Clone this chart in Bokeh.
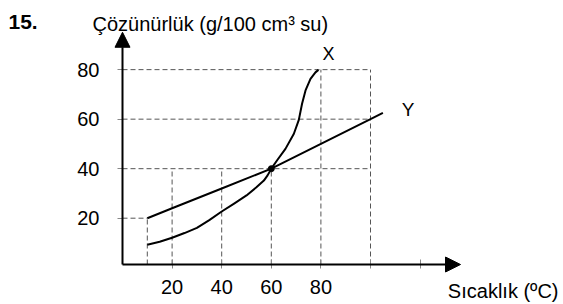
from bokeh.plotting import figure
from bokeh.models import Range1d, FixedTicker, Label, Arrow, NormalHead
from bokeh.embed import file_html
from bokeh.resources import INLINE

# ---- data ----
x_ticks = [20, 40, 60, 80, 100, 120]
x_tick_labels = {20: "20", 40: "40", 60: "60", 80: "80", 100: "", 120: ""}
y_ticks = [20, 40, 60, 80]

x_curve_t = [10, 15, 20, 25, 30, 35, 40, 45, 50, 54, 57, 58.5, 60, 62.5, 65.7,
             69.1, 71.1, 72.4, 73.8, 75.8, 77.8, 79]
x_curve_s = [9.3, 10.5, 12.1, 14, 16.1, 19.2, 22.7, 25.9, 29.2, 32.5, 35.2, 37.3, 40,
             43.6, 48, 54.1, 59.7, 66.2, 71.6, 76.3, 78.9, 79.9]

y_curve_t = [10, 20, 40, 60, 80, 100, 105]
y_curve_s = [20, 24, 32, 40, 50, 60, 62.5]

# dashed guide lines
h_guide_y = [20, 40, 60, 80]
h_guide_xend = [10, 100, 100, 100]
v_guide_x = [10, 20, 40, 60, 80, 100]
v_guide_ytop = [20, 40, 40, 40, 80, 80]

# axis extents (arrow tips) and axis crossing
AX_X0, AX_X1 = 0, 136.3
AX_Y0, AX_Y1 = 1.3, 95.1

FONT = "Liberation Sans"
W, H = 560, 302
# page pixel mapping: x=0 at px 122, 2.48 px/unit; y=1.3 at py 264, 2.476 px/unit
OX, KX = 122.0, 2.48
OY, KY = 264.0, 2.476


def dx(px):
    return AX_X0 + (px - OX) / KX


def dy(py):
    return AX_Y0 + (OY - py) / KY


p = figure(width=W, height=H, output_backend="svg", toolbar_location=None,
           x_range=Range1d(dx(0), dx(W)), y_range=Range1d(dy(H), dy(0)),
           min_border=0, min_border_left=0, min_border_right=0,
           min_border_top=0, min_border_bottom=0)
p.outline_line_color = None
p.grid.visible = False
p.background_fill_color = "white"
p.border_fill_color = "white"

# axes placed at the data origin
p.xaxis.fixed_location = AX_Y0
p.yaxis.fixed_location = AX_X0

p.xaxis.ticker = FixedTicker(ticks=x_ticks)
p.xaxis.major_label_overrides = x_tick_labels
p.xaxis.axis_line_color = None
p.xaxis.major_tick_in = 5
p.xaxis.major_tick_out = 4
p.xaxis.major_tick_line_color = "#888888"
p.xaxis.minor_tick_line_color = None
p.xaxis.major_label_standoff = 11
p.xaxis.major_label_text_font = FONT
p.xaxis.major_label_text_font_size = "20px"
p.xaxis.major_label_text_color = "black"

p.yaxis.ticker = FixedTicker(ticks=y_ticks)
p.yaxis.axis_line_color = None
p.yaxis.major_tick_in = 0
p.yaxis.major_tick_out = 5
p.yaxis.major_tick_line_color = "#888888"
p.yaxis.minor_tick_line_color = None
p.yaxis.major_label_standoff = 18
p.yaxis.major_label_text_font = FONT
p.yaxis.major_label_text_font_size = "20px"
p.yaxis.major_label_text_color = "black"

# guides
p.segment(x0=[AX_X0] * len(h_guide_y), y0=h_guide_y, x1=h_guide_xend, y1=h_guide_y,
          line_color="#555555", line_width=1, line_dash="5 3")
p.segment(x0=v_guide_x, y0=[AX_Y0] * len(v_guide_x), x1=v_guide_x, y1=v_guide_ytop,
          line_color="#555555", line_width=1, line_dash="5 3")

# curves
p.line(x_curve_t, x_curve_s, line_color="black", line_width=2, line_join="round")
p.line(y_curve_t, y_curve_s, line_color="black", line_width=2, line_join="round")
p.scatter([60], [40], size=6, color="black")

# axis arrows
for ex, ey in [(AX_X0, AX_Y1), (AX_X1, AX_Y0)]:
    p.add_layout(Arrow(end=NormalHead(size=15, fill_color="black", line_color="black"),
                       x_start=AX_X0, y_start=AX_Y0, x_end=ex, y_end=ey,
                       line_width=2, line_color="black"))


def lab(px, py, text, size, align="left", baseline="alphabetic", style="normal"):
    p.add_layout(Label(x=dx(px), y=dy(py), text=text, text_font=FONT, text_font_size=size,
                       text_align=align, text_baseline=baseline, text_font_style=style,
                       text_color="black"))


lab(8, 21.7, "15.", "21px", style="bold")
lab(92, 23, "Çözünürlük (g/100 cm³ su)", "20px")
lab(328, 53, "X", "18px", align="center", baseline="middle")
lab(407.5, 109, "Y", "19px", align="center", baseline="middle")
lab(558, 290, "Sıcaklık (ºC)", "20px", align="right")

open("out.html", "w").write(file_html(p, INLINE))
